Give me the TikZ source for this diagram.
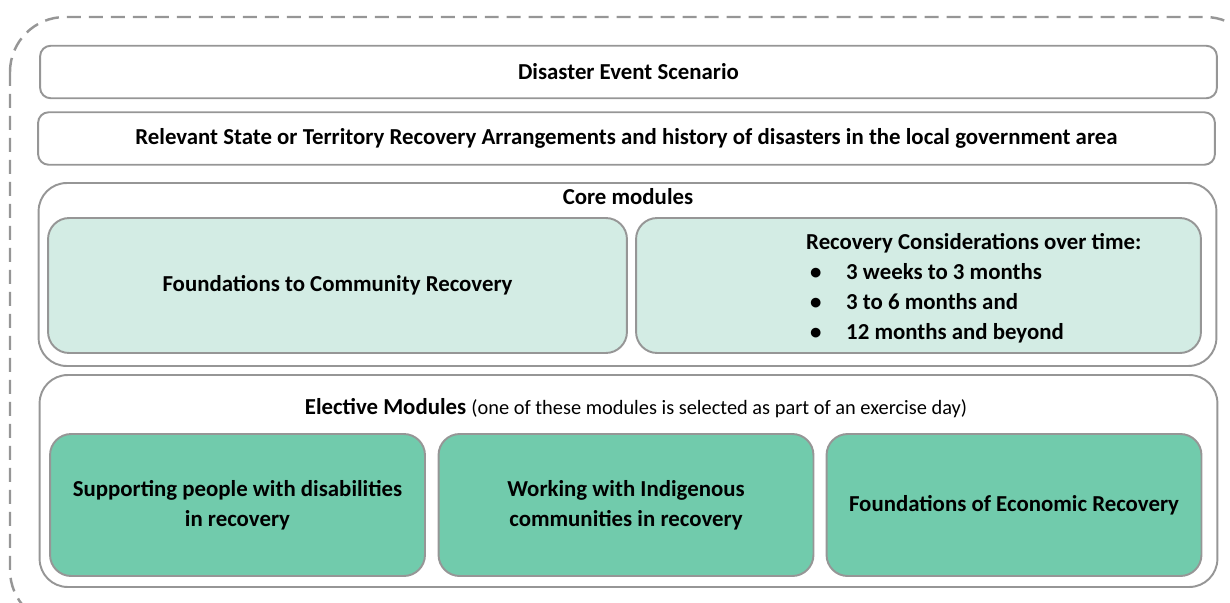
\documentclass[tikz,border=0pt]{standalone}
\usepackage{fontspec}
\setmainfont{Carlito}
\usetikzlibrary{shapes,arrows,positioning}
\definecolor{framegray}{RGB}{150,150,150}
\definecolor{corefill}{RGB}{211,236,228}
\definecolor{electfill}{RGB}{113,203,172}
\tikzstyle{banner} = [rectangle, draw=framegray, line width=1.1pt, rounded corners=6pt, minimum width=23.54cm, minimum height=1.05cm, font=\fontsize{13}{17}\selectfont\bfseries]
\tikzstyle{group} = [rectangle, draw=framegray, line width=1.1pt, rounded corners=16pt, minimum width=23.56cm]
\tikzstyle{core} = [rectangle, draw=framegray, fill=corefill, line width=1.1pt, rounded corners=12pt, minimum height=2.7cm, font=\fontsize{13}{17}\selectfont\bfseries]
\tikzstyle{elective} = [rectangle, draw=framegray, fill=electfill, line width=1.1pt, rounded corners=12pt, minimum width=7.5cm, minimum height=2.84cm, align=center, font=\fontsize{13}{17}\selectfont\bfseries]
\tikzstyle{title} = [font=\fontsize{13}{17}\selectfont]
\newcommand{\periodline}[1]{\makebox[0.8cm][l]{\hspace{0.08cm}\textbullet}#1}

\begin{document}
\begin{tikzpicture}[x=0.02cm, y=-0.02cm]
        \useasboundingbox (0,0) rectangle (1230,602);
        \clip (0,0) rectangle (1230,602);

        % dashed outline round everything
        \draw [framegray, line width=1.4pt, dash pattern=on 0.28cm off 0.16cm, rounded corners=1.1cm] (10,17) rectangle (1260,625);

        \node [banner] (scenario) at (628.5,72) {Disaster Event Scenario};
        \node [banner] (arrangements) at (626.5,138.5) {Relevant State or Territory Recovery Arrangements and history of disasters in the local government area};

        % core modules
        \node [group, minimum height=3.66cm] (coregroup) at (627.5,274.5) {};
        \node [title, font=\fontsize{13}{17}\selectfont\bfseries] (coretitle) at (628,197) {Core modules};
        \node [core, minimum width=11.58cm] (foundations) at (337.5,285.5) {Foundations to Community Recovery};
        \node [core, minimum width=11.3cm] (overtime) at (918.5,285.5) {};
        \node [anchor=west, align=left, font=\fontsize{13}{17}\selectfont\bfseries] (periods) at (800,288) {Recovery Considerations over time:\\
                \periodline{3 weeks to 3 months}\\
                \periodline{3 to 6 months and}\\
                \periodline{12 months and beyond}};

        % elective modules
        \node [group, minimum height=4.24cm] (electgroup) at (628.5,481) {};
        \node [title] (electtitle) at (636,408) {\textbf{Elective Modules} {\fontsize{11.6}{17}\selectfont(one of these modules is selected as part of an exercise day)}};
        \node [elective] (disability) at (237.5,505) {Supporting people with disabilities\\in recovery};
        \node [elective] (indigenous) at (626,505) {Working with Indigenous\\communities in recovery};
        \node [elective] (economic) at (1014,505) {Foundations of Economic Recovery};
      \end{tikzpicture}
\end{document}
